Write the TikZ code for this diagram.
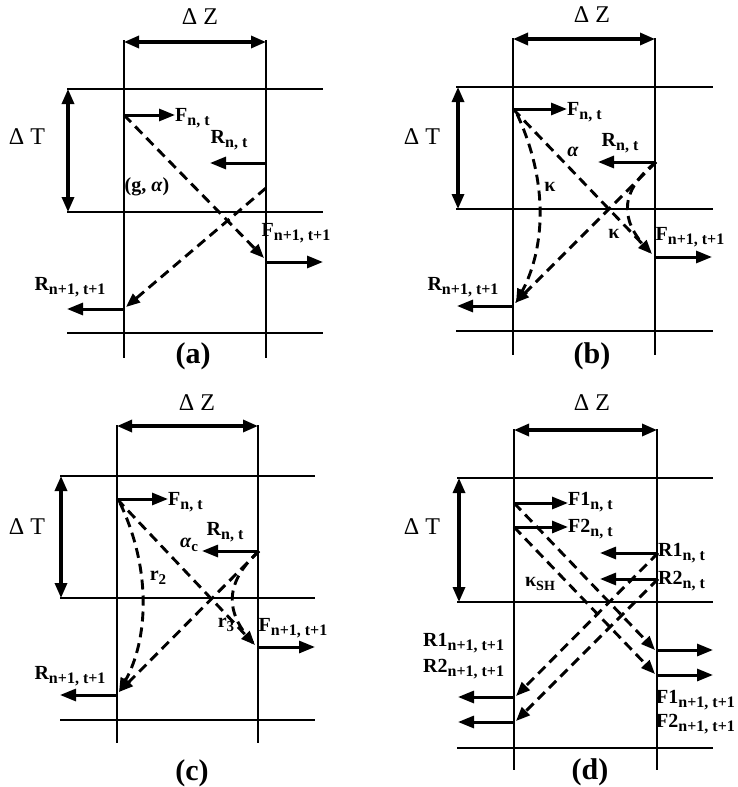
\documentclass[tikz,border=0pt]{standalone}
\usepackage{fontspec}
\setmainfont{Liberation Serif}
\usetikzlibrary{arrows.meta}
\newcommand\lbl[2]{{\fontsize{20}{20}\selectfont\bfseries #1\raisebox{-0.45ex}{\fontsize{16}{16}\selectfont #2}}}
\newcommand\sbs[1]{\raisebox{-0.45ex}{\fontsize{15}{15}\selectfont #1}}
\begin{document}
\begin{tikzpicture}[x=1pt,y=-1pt,
  thinln/.style={line width=1.9pt},
  dimarr/.style={line width=3.2pt,{Triangle[length=15pt,width=12pt]}-{Triangle[length=15pt,width=12pt]}},
  vecarr/.style={line width=3pt,-{Triangle[length=16pt,width=12pt]}},
  dsh/.style={line width=2.9pt,dash pattern=on 10pt off 6pt,-{Triangle[length=14pt,width=11pt]}},
  dshn/.style={line width=2.9pt,dash pattern=on 10pt off 6pt},
  dimlbl/.style={font=\fontsize{24}{24}\selectfont},
  plbl/.style={font=\fontsize{30}{30}\selectfont\bfseries},
  txt/.style={inner sep=0pt},
  gr/.style={inner sep=0pt,font=\fontsize{20}{20}\selectfont\bfseries}]
\useasboundingbox (0,0) rectangle (737,787);
% ================= panel (a) =================
\coordinate (aV1) at (124,40); \coordinate (aV2) at (124,358);
\coordinate (aW1) at (266,40); \coordinate (aW2) at (266,358);
\draw[thinln] (aV1) -- (aV2); \draw[thinln] (aW1) -- (aW2);
\coordinate (aT1) at (67,89);  \coordinate (aT2) at (323,89);
\coordinate (aM1) at (67,212); \coordinate (aM2) at (323,212);
\coordinate (aB1) at (67,333); \coordinate (aB2) at (323,333);
\draw[thinln] (aT1) -- (aT2); \draw[thinln] (aM1) -- (aM2); \draw[thinln] (aB1) -- (aB2);
\coordinate (aZ1) at (124,42); \coordinate (aZ2) at (266,42);
\draw[dimarr] (aZ1) -- (aZ2);
\node[dimlbl] (aZl) at (200,17) {Δ Z};
\coordinate (aD1) at (68,89); \coordinate (aD2) at (68,212);
\draw[dimarr] (aD1) -- (aD2);
\node[dimlbl] (aTl) at (27,137) {Δ T};
\coordinate (aF0) at (124,115); \coordinate (aF1) at (175,115);
\draw[vecarr] (aF0) -- (aF1);
\node[txt,anchor=west] (aFl) at (175,118) {\lbl{F}{n, t}};
\coordinate (aR0) at (266,163); \coordinate (aR1) at (210,163);
\draw[vecarr] (aR0) -- (aR1);
\node[txt] (aRl) at (229,140) {\lbl{R}{n, t}};
\coordinate (aFe) at (264,258);
\draw[dsh] (aF0) -- (aFe);
\coordinate (aFo0) at (266,262); \coordinate (aFo1) at (323,262);
\draw[vecarr] (aFo0) -- (aFo1);
\node[txt] (aFol) at (296,233) {\lbl{F}{n+1, t+1}};
\coordinate (aRs) at (266,188); \coordinate (aRe) at (126,307);
\draw[dsh] (aRs) -- (aRe);
\coordinate (aRo0) at (124,309); \coordinate (aRo1) at (67,309);
\draw[vecarr] (aRo0) -- (aRo1);
\node[txt] (aRol) at (70,287) {\lbl{R}{n+1, t+1}};
\node[gr] (aga) at (147,187) {(g, \textit{α})};
\node[plbl] (apl) at (193,356) {(a)};
% ================= panel (b) =================
\coordinate (bV1) at (513,38); \coordinate (bV2) at (513,355);
\coordinate (bW1) at (655,38); \coordinate (bW2) at (655,355);
\draw[thinln] (bV1) -- (bV2); \draw[thinln] (bW1) -- (bW2);
\coordinate (bT1) at (456,87);  \coordinate (bT2) at (713,87);
\coordinate (bM1) at (456,209); \coordinate (bM2) at (713,209);
\coordinate (bB1) at (456,331); \coordinate (bB2) at (713,331);
\draw[thinln] (bT1) -- (bT2); \draw[thinln] (bM1) -- (bM2); \draw[thinln] (bB1) -- (bB2);
\coordinate (bZ1) at (513,39); \coordinate (bZ2) at (655,39);
\draw[dimarr] (bZ1) -- (bZ2);
\node[dimlbl] (bZl) at (592,15) {Δ Z};
\coordinate (bD1) at (458,87); \coordinate (bD2) at (458,209);
\draw[dimarr] (bD1) -- (bD2);
\node[dimlbl] (bTl) at (422,137) {Δ T};
\coordinate (bF0) at (513,109); \coordinate (bF1) at (567,109);
\draw[vecarr] (bF0) -- (bF1);
\node[txt,anchor=west] (bFl) at (567,112) {\lbl{F}{n, t}};
\coordinate (bR0) at (656,162); \coordinate (bR1) at (598,162);
\draw[vecarr] (bR0) -- (bR1);
\node[txt] (bRl) at (620,143) {\lbl{R}{n, t}};
\node[gr] (bal) at (573,152) {\textit{α}};
\node[gr] (bk1) at (550,187) {κ};
\node[gr] (bk2) at (614,234) {κ};
\coordinate (bFe) at (652,254);
\draw[dsh] (bF0) -- (bFe);
\coordinate (bCs) at (517,114);
\coordinate (bCe) at (516,303);
\draw[dsh] (bCs) .. controls (550,185) and (544,250) .. (bCe);
\draw[dshn] (bR0) .. controls (615,195) and (622,225) .. (bFe);
\coordinate (bFo0) at (655,257); \coordinate (bFo1) at (712,257);
\draw[vecarr] (bFo0) -- (bFo1);
\node[txt] (bFol) at (690,237) {\lbl{F}{n+1, t+1}};
\coordinate (bRe) at (515,303);
\draw[dsh] (bR0) -- (bRe);
\coordinate (bRo0) at (513,306); \coordinate (bRo1) at (457,306);
\draw[vecarr] (bRo0) -- (bRo1);
\node[txt] (bRol) at (463,287) {\lbl{R}{n+1, t+1}};
\node[plbl] (bpl) at (592,356) {(b)};
% ================= panel (c) =================
\coordinate (cV1) at (117,425); \coordinate (cV2) at (117,743);
\coordinate (cW1) at (258,425); \coordinate (cW2) at (258,743);
\draw[thinln] (cV1) -- (cV2); \draw[thinln] (cW1) -- (cW2);
\coordinate (cT1) at (60,476);  \coordinate (cT2) at (315,476);
\coordinate (cM1) at (60,598);  \coordinate (cM2) at (315,598);
\coordinate (cB1) at (60,720);  \coordinate (cB2) at (315,720);
\draw[thinln] (cT1) -- (cT2); \draw[thinln] (cM1) -- (cM2); \draw[thinln] (cB1) -- (cB2);
\coordinate (cZ1) at (117,426); \coordinate (cZ2) at (258,426);
\draw[dimarr] (cZ1) -- (cZ2);
\node[dimlbl] (cZl) at (197,403) {Δ Z};
\coordinate (cD1) at (61,476); \coordinate (cD2) at (61,598);
\draw[dimarr] (cD1) -- (cD2);
\node[dimlbl] (cTl) at (27,527) {Δ T};
\coordinate (cF0) at (117,499); \coordinate (cF1) at (168,499);
\draw[vecarr] (cF0) -- (cF1);
\node[txt,anchor=west] (cFl) at (168,502) {\lbl{F}{n, t}};
\coordinate (cR0) at (259,551); \coordinate (cR1) at (202,551);
\draw[vecarr] (cR0) -- (cR1);
\node[txt] (cRl) at (225,532) {\lbl{R}{n, t}};
\node[gr] (cal) at (189,545) {\textit{α}\sbs{c}};
\node[gr] (cr2) at (158,578) {r\sbs{2}};
\node[gr] (cr3) at (226,625) {r\sbs{3}};
\coordinate (cFe) at (255,645);
\draw[dsh] (cF0) -- (cFe);
\coordinate (cCs) at (120,503);
\coordinate (cRe) at (119,692);
\draw[dsh] (cCs) .. controls (152,570) and (148,640) .. (cRe);
\draw[dshn] (cR0) .. controls (222,585) and (226,615) .. (cFe);
\coordinate (cFo0) at (258,647); \coordinate (cFo1) at (315,647);
\draw[vecarr] (cFo0) -- (cFo1);
\node[txt] (cFol) at (293,628) {\lbl{F}{n+1, t+1}};
\draw[dsh] (cR0) -- (cRe);
\coordinate (cRo0) at (117,695); \coordinate (cRo1) at (60,695);
\draw[vecarr] (cRo0) -- (cRo1);
\node[txt] (cRol) at (70,676) {\lbl{R}{n+1, t+1}};
\node[plbl] (cpl) at (192,773) {(c)};
% ================= panel (d) =================
\coordinate (dV1) at (514,429); \coordinate (dV2) at (514,770);
\coordinate (dW1) at (657,429); \coordinate (dW2) at (657,770);
\draw[thinln] (dV1) -- (dV2); \draw[thinln] (dW1) -- (dW2);
\coordinate (dT1) at (457,478);  \coordinate (dT2) at (713,478);
\coordinate (dM1) at (457,602);  \coordinate (dM2) at (713,602);
\coordinate (dB1) at (457,748);  \coordinate (dB2) at (713,748);
\draw[thinln] (dT1) -- (dT2); \draw[thinln] (dM1) -- (dM2); \draw[thinln] (dB1) -- (dB2);
\coordinate (dZ1) at (514,430); \coordinate (dZ2) at (657,430);
\draw[dimarr] (dZ1) -- (dZ2);
\node[dimlbl] (dZl) at (592,403) {Δ Z};
\coordinate (dD1) at (459,478); \coordinate (dD2) at (459,602);
\draw[dimarr] (dD1) -- (dD2);
\node[dimlbl] (dTl) at (422,527) {Δ T};
\coordinate (dF10) at (514,503); \coordinate (dF11) at (568,503);
\coordinate (dF20) at (514,527); \coordinate (dF21) at (568,527);
\draw[vecarr] (dF10) -- (dF11); \draw[vecarr] (dF20) -- (dF21);
\node[txt,anchor=west] (dF1l) at (568,502) {\lbl{F1}{n, t}};
\node[txt,anchor=west] (dF2l) at (568,529) {\lbl{F2}{n, t}};
\coordinate (dR10) at (658,553); \coordinate (dR11) at (600,553);
\coordinate (dR20) at (658,579); \coordinate (dR21) at (600,579);
\draw[vecarr] (dR10) -- (dR11); \draw[vecarr] (dR20) -- (dR21);
\node[txt,anchor=west] (dR1l) at (658,553) {\lbl{R1}{n, t}};
\node[txt,anchor=west] (dR2l) at (658,581) {\lbl{R2}{n, t}};
\node[gr] (dk) at (540,584) {κ\raisebox{-0.45ex}{\fontsize{14}{14}\selectfont SH}};
\coordinate (dF1e) at (655,650); \coordinate (dF2e) at (655,674);
\draw[dsh] (dF10) -- (dF1e); \draw[dsh] (dF20) -- (dF2e);
\coordinate (dFo10) at (657,650); \coordinate (dFo11) at (713,650);
\coordinate (dFo20) at (657,675); \coordinate (dFo21) at (713,675);
\draw[vecarr] (dFo10) -- (dFo11); \draw[vecarr] (dFo20) -- (dFo21);
\node[txt,anchor=west] (dFo1l) at (656,700) {\lbl{F1}{n+1, t+1}};
\node[txt,anchor=west] (dFo2l) at (656,724) {\lbl{F2}{n+1, t+1}};
\coordinate (dR1e) at (516,696); \coordinate (dR2e) at (516,721);
\draw[dsh] (dR10) -- (dR1e); \draw[dsh] (dR20) -- (dR2e);
\coordinate (dRo10) at (514,697); \coordinate (dRo11) at (458,697);
\coordinate (dRo20) at (514,722); \coordinate (dRo21) at (458,722);
\draw[vecarr] (dRo10) -- (dRo11); \draw[vecarr] (dRo20) -- (dRo21);
\node[txt,anchor=west] (dRo1l) at (423,643) {\lbl{R1}{n+1, t+1}};
\node[txt,anchor=west] (dRo2l) at (423,669) {\lbl{R2}{n+1, t+1}};
\node[plbl] (dpl) at (590,772) {(d)};
\end{tikzpicture}
\end{document}
